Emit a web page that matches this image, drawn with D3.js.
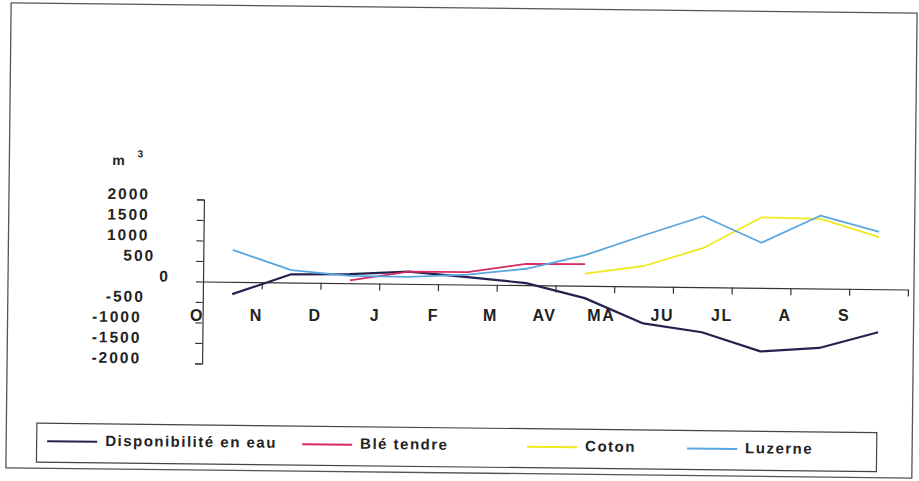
<!DOCTYPE html>
<html>
<head>
<meta charset="utf-8">
<script src="https://cdn.jsdelivr.net/npm/d3@7"></script>
<style>
  body { margin: 0; background: #fff; }
  text { font-family: "Liberation Sans", Arial, sans-serif; fill: #222; }
</style>
</head>
<body>
<div id="chart"></div>
<script>
const months = ["O", "N", "D", "J", "F", "M", "AV", "MA", "JU", "JL", "A", "S"]
const yTicks = [2000, 1500, 1000, 500, 0, -500, -1000, -1500, -2000]

// m3 par mois
const disponibilite = [-300, 200, 220, 300, 180, 50, -300, -900, -1100, -1550, -1450, -1050]
const bleTendre = [null, null, 70, 300, 300, 520, 530, null, null, null, null, null]
const coton = [null, null, null, null, null, null, 300, 500, 950, 1720, 1700, 1270]
const luzerne = [780, 300, 180, 170, 240, 400, 750, 1250, 1730, 1100, 1780, 1400]

const seriesNames = ["Disponibilité en eau", "Blé tendre", "Coton", "Luzerne"]
const seriesColors = ["#25214f", "#d62a62", "#eeea1e", "#5aa6e0"]

const series = [disponibilite, bleTendre, coton, luzerne].map((values, i) => ({
  name: seriesNames[i],
  color: seriesColors[i],
  values: values
}))

const size = [919, 481]
const plot = {left: 203, right: 908, top: 199.5, bottom: 363.5}

const svg = d3.select("#chart").append("svg")
  .attr("width", size[0])
  .attr("height", size[1])

const x = d3.scaleBand()
  .domain(months)
  .range([plot.left, plot.right])

const xEdge = d3.scaleLinear()
  .domain([0, months.length])
  .range([plot.left, plot.right])

const y = d3.scaleLinear()
  .domain([-2000, 2000])
  .range([plot.bottom, plot.top])

const y0 = y(0)

// the scan is slightly tilted
const g = svg.append("g")
  .attr("transform", `rotate(0.65,${plot.left},${y0})`)

// outer frame
g.append("rect")
  .attr("x", 8).attr("y", 5)
  .attr("width", 906).attr("height", 465)
  .attr("fill", "none")
  .attr("stroke", "#555")
  .attr("stroke-width", 1.3)

// y axis
g.append("g")
  .attr("transform", `translate(${plot.left},0)`)
  .call(d3.axisLeft(y).tickValues(yTicks).tickSize(7).tickFormat(""))
  .call(a => a.selectAll("path, line").attr("stroke", "#333").attr("stroke-width", 1.2))

function labelX(v) {
  if (v === 0) return 170
  if (v === 500) return 155
  if (v === -500) return 145
  if (v < 0) return 142
  return 149
}

g.append("g")
  .selectAll("text")
  .data(yTicks)
  .join("text")
    .attr("x", labelX)
    .attr("y", d => y(d) + 0.5)
    .attr("text-anchor", "end")
    .attr("font-size", 15.5)
    .attr("font-weight", "bold")
    .attr("letter-spacing", 2)
    .text(d => d)

// m3
g.append("text")
  .attr("x", 111).attr("y", 166)
  .attr("font-size", 14)
  .attr("font-weight", "bold")
  .text("m")
g.append("text")
  .attr("x", 136).attr("y", 158)
  .attr("font-size", 10)
  .attr("font-weight", "bold")
  .text("3")

// x axis on the zero line
g.append("g")
  .attr("transform", `translate(0,${y0})`)
  .call(d3.axisBottom(xEdge).tickValues(d3.range(1, months.length + 1)).tickSize(7).tickSizeOuter(0).tickFormat(""))
  .call(a => a.selectAll("path, line").attr("stroke", "#333").attr("stroke-width", 1.2))

// lines
const line = d3.line()
  .defined(d => d != null)
  .x((d, i) => x(months[i]) + x.bandwidth() / 2)
  .y(d => y(d))

g.append("g")
  .attr("fill", "none")
  .attr("stroke-linejoin", "round")
  .selectAll("path")
  .data(series)
  .join("path")
    .attr("stroke", d => d.color)
    .attr("stroke-width", (d, i) => i === 0 ? 2.2 : 1.8)
    .attr("d", d => line(d.values))

// legend
g.append("rect")
  .attr("x", 38.5).attr("y", 425)
  .attr("width", 840).attr("height", 39)
  .attr("fill", "none")
  .attr("stroke", "#444")
  .attr("stroke-width", 1.2)

const legendX = [49, 304, 529, 689]
const legend = g.append("g")
  .selectAll("g")
  .data(series)
  .join("g")
    .attr("transform", (d, i) => `translate(${legendX[i]},0)`)
legend.append("line")
  .attr("x1", 0).attr("x2", 50)
  .attr("y1", 443).attr("y2", 443)
  .attr("stroke", d => d.color)
  .attr("stroke-width", 2)
legend.append("text")
  .attr("x", 58).attr("y", 447)
  .attr("font-size", 15)
  .attr("font-weight", "bold")
  .attr("letter-spacing", 1.5)
  .text(d => d.name)

// month labels (not tilted in the scan)
svg.append("g")
  .selectAll("text")
  .data(months)
  .join("text")
    .attr("x", (d, i) => xEdge(i) + 1)
    .attr("y", 320.5)
    .attr("text-anchor", "end")
    .attr("font-size", 16)
    .attr("font-weight", "bold")
    .attr("letter-spacing", 1.5)
    .text(d => d)
</script>
</body>
</html>
